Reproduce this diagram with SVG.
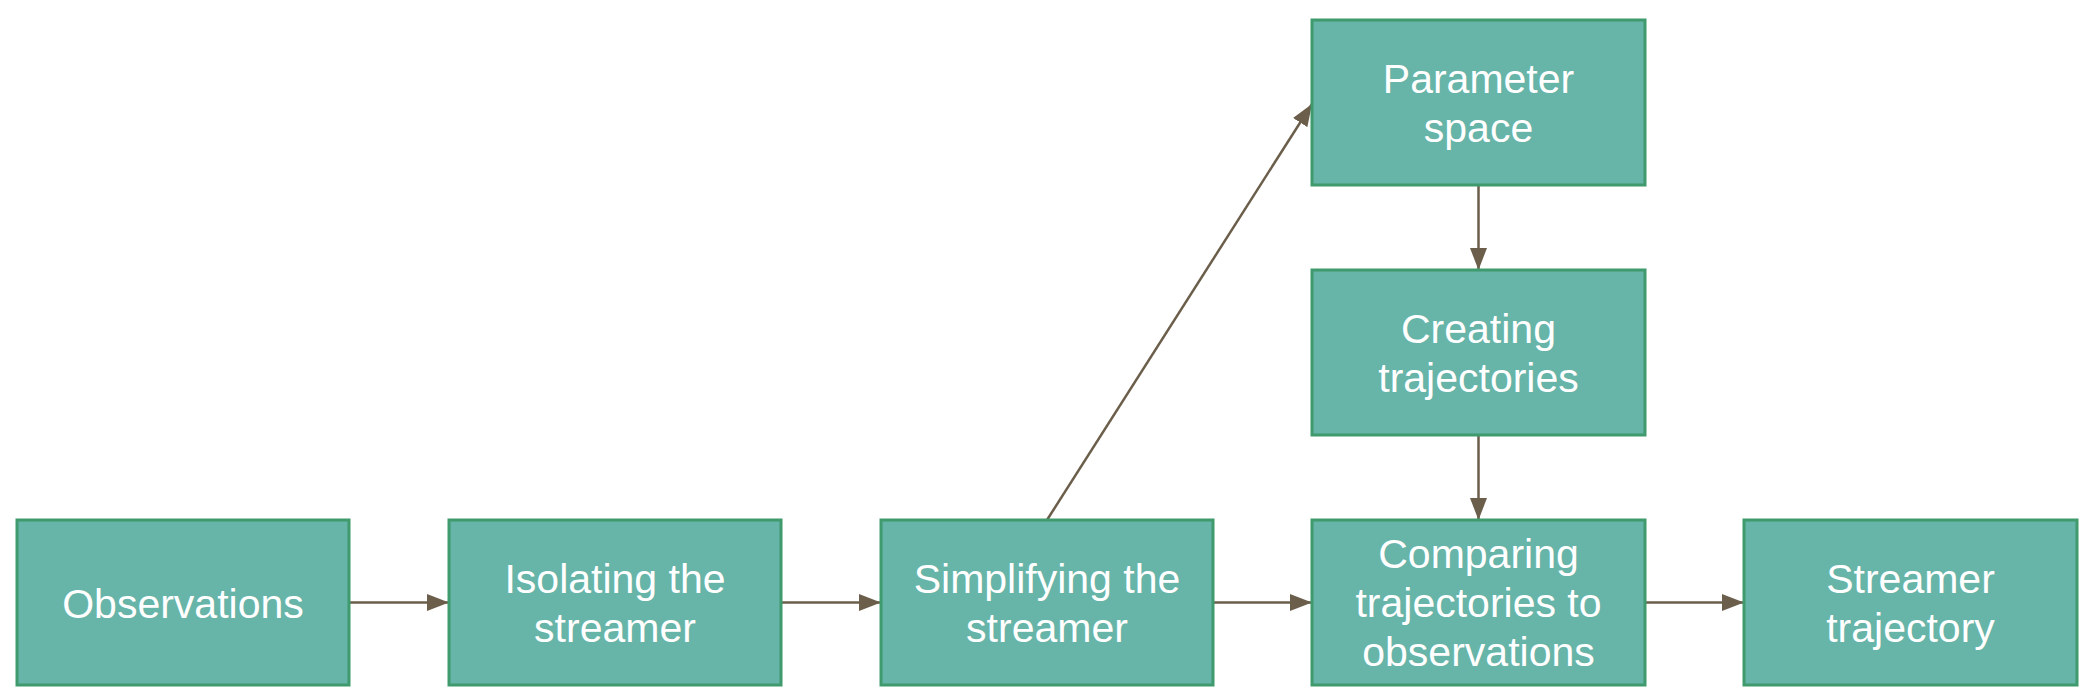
<svg xmlns="http://www.w3.org/2000/svg" width="2094" height="700" viewBox="0 0 2094 700">
<style>
.box{fill:#67b4a9;stroke:#3f9a6d;stroke-width:3}
.lbl{fill:#ffffff;font-family:"Liberation Sans",Arial,sans-serif;font-size:41px;text-anchor:middle}
.edge{stroke:#6b5e4b;stroke-width:2.5;fill:none;marker-end:url(#ah)}
</style>
<defs>
<marker id="ah" markerUnits="userSpaceOnUse" markerWidth="23" markerHeight="18" refX="22" refY="9" orient="auto">
<path d="M0,0.5 L22,9 L0,17.5 Z" fill="#6b5e4b"/>
</marker>
</defs>
<rect width="2094" height="700" fill="#ffffff"/>
<g id="connectors">
<line class="edge" x1="349" y1="602.5" x2="449" y2="602.5"/>
<line class="edge" x1="781" y1="602.5" x2="881" y2="602.5"/>
<line class="edge" x1="1213" y1="602.5" x2="1312" y2="602.5"/>
<line class="edge" x1="1645" y1="602.5" x2="1744" y2="602.5"/>
<line class="edge" x1="1478.5" y1="185" x2="1478.5" y2="270"/>
<line class="edge" x1="1478.5" y1="435" x2="1478.5" y2="520"/>
<line class="edge" x1="1047" y1="520" x2="1312" y2="104"/>
</g>
<g id="observations">
<rect class="box" x="17" y="520" width="332" height="165"/>
<text class="lbl" x="183" y="618">Observations</text>
</g>
<g id="isolating">
<rect class="box" x="449" y="520" width="332" height="165"/>
<text class="lbl" x="615" y="593">Isolating the</text>
<text class="lbl" x="615" y="642">streamer</text>
</g>
<g id="simplifying">
<rect class="box" x="881" y="520" width="332" height="165"/>
<text class="lbl" x="1047" y="593">Simplifying the</text>
<text class="lbl" x="1047" y="642">streamer</text>
</g>
<g id="comparing">
<rect class="box" x="1312" y="520" width="333" height="165"/>
<text class="lbl" x="1478.5" y="568">Comparing</text>
<text class="lbl" x="1478.5" y="617">trajectories to</text>
<text class="lbl" x="1478.5" y="666">observations</text>
</g>
<g id="streamer-trajectory">
<rect class="box" x="1744" y="520" width="333" height="165"/>
<text class="lbl" x="1910.5" y="593">Streamer</text>
<text class="lbl" x="1910.5" y="642">trajectory</text>
</g>
<g id="parameter-space">
<rect class="box" x="1312" y="20" width="333" height="165"/>
<text class="lbl" x="1478.5" y="93">Parameter</text>
<text class="lbl" x="1478.5" y="142">space</text>
</g>
<g id="creating">
<rect class="box" x="1312" y="270" width="333" height="165"/>
<text class="lbl" x="1478.5" y="343">Creating</text>
<text class="lbl" x="1478.5" y="392">trajectories</text>
</g>
</svg>
